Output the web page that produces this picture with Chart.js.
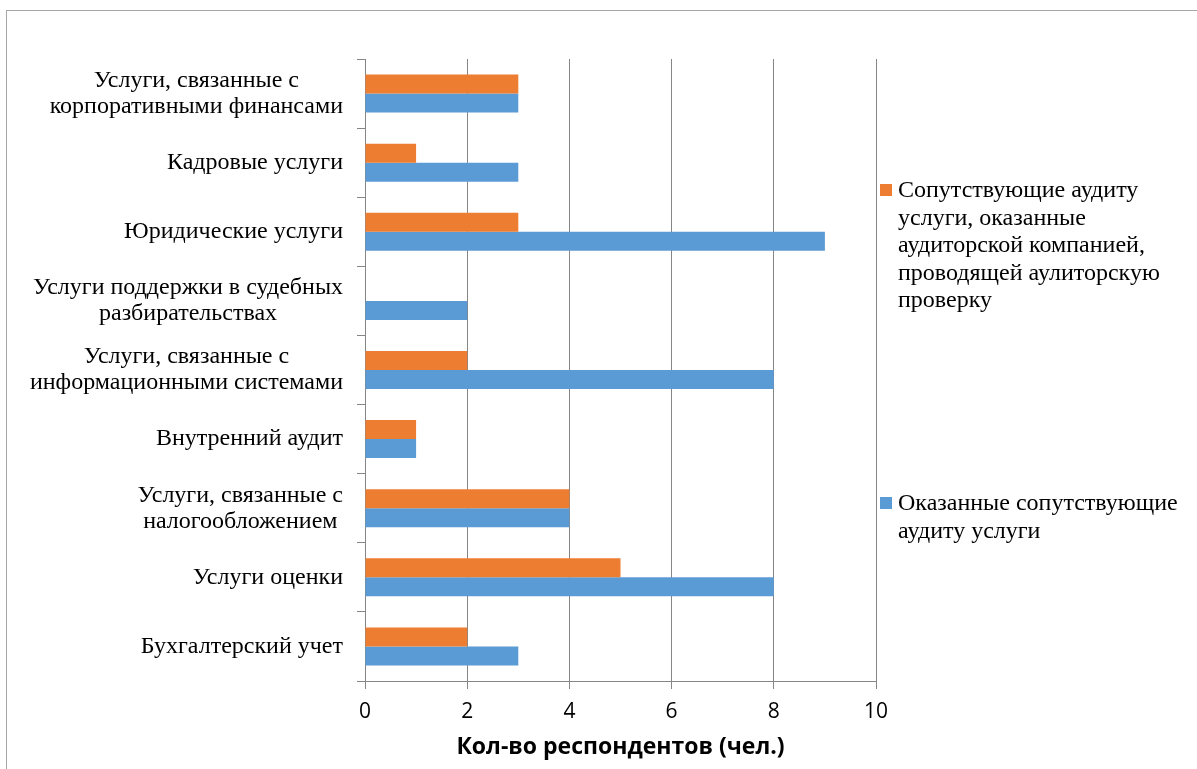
<!DOCTYPE html>
<html>
<head>
<meta charset="utf-8">
<script src="https://cdn.jsdelivr.net/npm/chart.js@4"></script>
<style>
  body { margin: 0; background: #fff; }
  #wrap { position: relative; width: 1197px; height: 769px; overflow: hidden; }
  #frame { position: absolute; left: 6px; top: 10px; width: 1300px; height: 900px; border: 1px solid #a6a6a6; box-sizing: border-box; }
  #chart { position: absolute; left: 0; top: 0; }
  .leg { position: absolute; left: 880px; font-family: "Liberation Serif", serif; font-size: 24px; line-height: 27.5px; color: #000; white-space: nowrap; }
  .leg span.box { position: absolute; left: 0; top: 8px; width: 12px; height: 12px; }
  .leg div.txt { margin-left: 18px; }
</style>
</head>
<body>
<div id="wrap">
  <div id="frame"></div>
  <canvas id="chart" width="1197" height="769"></canvas>
  <div class="leg" style="top:176px"><span class="box" style="background:#ED7D31"></span><div class="txt">Сопутствующие аудиту<br>услуги, оказанные<br>аудиторской компанией,<br>проводящей аулиторскую<br>проверку</div></div>
  <div class="leg" style="top:489px"><span class="box" style="background:#5B9BD5"></span><div class="txt">Оказанные сопутствующие<br>аудиту услуги</div></div>
</div>
<script>
const categories = [
    ["Услуги, связанные с", "корпоративными финансами"],
    ["Кадровые услуги"],
    ["Юридические услуги"],
    ["Услуги поддержки в судебных", "разбирательствах"],
    ["Услуги, связанные с", "информационными системами"],
    ["Внутренний аудит"],
    ["Услуги, связанные с", "налогообложением"],
    ["Услуги оценки"],
    ["Бухгалтерский учет"]
]
const orangeLabel = "Сопутствующие аудиту услуги, оказанные аудиторской компанией, проводящей аулиторскую проверку"
const blueLabel = "Оказанные сопутствующие аудиту услуги"
const orangeValues = [3, 1, 3, 0, 2, 1, 4, 5, 2]
const blueValues = [3, 3, 9, 2, 8, 1, 4, 8, 3]
const xTicks = [0, 2, 4, 6, 8, 10]

// подписи категорий: блок выровнен вправо, строки по центру блока
const yLabelsPlugin = {
    id: "yLabels",
    afterDraw(chart) {
        const ctx = chart.ctx
        const scale = chart.scales.y
        const right = 343
        const lineH = 26
        ctx.save()
        ctx.font = "24px 'Liberation Serif'"
        ctx.fillStyle = "#000"
        ctx.textAlign = "center"
        ctx.textBaseline = "middle"
        categories.forEach((lines, i) => {
            const y = scale.getPixelForTick(i)
            const w = Math.max(...lines.map(l => ctx.measureText(l).width))
            const cx = right - w / 2
            const y0 = y - (lines.length - 1) * lineH / 2
            lines.forEach((l, k) => ctx.fillText(l, cx, y0 + k * lineH))
        })
        ctx.restore()
    }
}

const data = {
    labels: categories.map(c => c.join(" ")),
    datasets: [{
        label: orangeLabel,
        data: orangeValues,
        backgroundColor: "#ED7D31",
        barPercentage: 1,
        categoryPercentage: 0.55
    }, {
        label: blueLabel,
        data: blueValues,
        backgroundColor: "#5B9BD5",
        barPercentage: 1,
        categoryPercentage: 0.55
    }]
}

const config = {
    type: "bar",
    data: data,
    options: {
        indexAxis: "y",
        responsive: false,
        animation: false,
        layout: { padding: { left: 0, right: 321, top: 59, bottom: 0 } },
        plugins: { legend: { display: false }, tooltip: { enabled: false } },
        scales: {
            y: {
                afterFit(scale) { scale.width = 365 },
                ticks: { display: false },
                grid: { drawOnChartArea: false, tickLength: 8, color: "#868686", offset: true },
                border: { color: "#868686" }
            },
            x: {
                min: 0,
                max: 10,
                afterFit(scale) { scale.height = 88 },
                afterBuildTicks(scale) { scale.ticks = xTicks.map(v => ({ value: v })) },
                ticks: {
                    font: { family: "'Open Sans'", size: 21 },
                    color: "#000",
                    padding: 10
                },
                grid: { color: "#868686", tickLength: 8 },
                border: { color: "#868686" },
                title: {
                    display: true,
                    text: "Кол-во респондентов (чел.)",
                    font: { family: "'Open Sans'", size: 23, weight: "bold" },
                    color: "#000",
                    padding: { top: 0, bottom: 8 }
                }
            }
        }
    },
    plugins: [yLabelsPlugin]
}

new Chart(document.querySelector("#chart"), config)
</script>
</body>
</html>
